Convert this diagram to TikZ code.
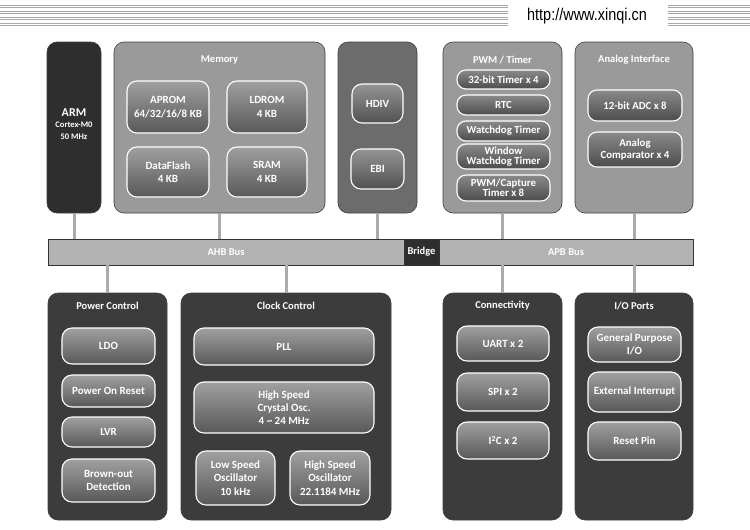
\documentclass[tikz,border=0pt]{standalone}
\usepackage{fontspec}
\setmainfont{Carlito}
\newfontfamily\urlfont{Liberation Sans}[FakeStretch=0.85]
\definecolor{darkbox}{HTML}{2E2E2E}
\definecolor{botbox}{HTML}{3C3C3C}
\definecolor{midbox}{HTML}{9A9A9A}
\definecolor{hdbox}{HTML}{6C6C6C}
\definecolor{busgray}{HTML}{B2B2B2}
\definecolor{conngray}{HTML}{ABABAB}
\definecolor{stripegray}{HTML}{A8A8A8}
\definecolor{inA}{HTML}{A0A0A0}
\definecolor{inB}{HTML}{8A8A8A}
\definecolor{inC}{HTML}{949494}
\newcommand\bx[7]{\node[#1, minimum width={#5-#3}, minimum height={#6-#4}] (#2) at ({(#3+#5)/2},{(#4+#6)/2}) {#7};}
\begin{document}
\begin{tikzpicture}[x=1pt,y=-1pt,
  blk/.style={draw=black!75, line width=0.6pt, rounded corners=10pt, fill=#1, inner sep=0pt},
  inbox/.style={draw=white, line width=1.1pt, rounded corners=10pt, top color=#1, bottom color=#1!55!black, text=white, align=center, inner sep=0pt, font=\bfseries\fontsize{11}{13.3}\selectfont},
  inbox/.default={inA},
  pill/.style={inbox=inB, rounded corners=9pt, font=\bfseries\fontsize{10.8}{12}\selectfont},
  ttl/.style={text=white, font=\bfseries\fontsize{10.5}{12}\selectfont, inner sep=0pt},
  conn/.style={draw=conngray, line width=3pt},
  stripe/.style={draw=stripegray, line width=0.9pt},
  busbox/.style={draw=black!80, line width=0.6pt, fill=busgray, inner sep=0pt, text=white, font=\bfseries\fontsize{10.5}{12}\selectfont},
]
\useasboundingbox (0,0) rectangle (750,530);

% header
\node[font=\urlfont\fontsize{17}{17}\selectfont, inner sep=0pt] (url) at (587,16) {http://www.xinqi.cn};
\foreach \yy in {5,11,17,23} {
  \draw[stripe] (0,\yy) -- (508,\yy);
  \draw[stripe] (0,\yy+2) -- (508,\yy+2);
  \draw[stripe] (668,\yy) -- (750,\yy);
  \draw[stripe] (668,\yy+2) -- (750,\yy+2);
}

% bus
\bx{busbox}{ahb}{48}{239}{404}{265}{AHB Bus}
\bx{busbox, fill=darkbox}{bridge}{404}{239}{439}{265}{Bridge}
\bx{busbox}{apb}{439}{239}{693}{265}{APB Bus}

% top outer boxes
\bx{blk=darkbox}{arm}{47}{42}{101}{213}{}
\bx{blk=midbox}{mem}{114}{42}{325}{213}{}
\bx{blk=hdbox}{hd}{338}{42}{417}{213}{}
\bx{blk=midbox}{pwm}{443}{42}{562}{213}{}
\bx{blk=midbox}{ana}{575}{42}{693}{213}{}

% bottom outer boxes
\bx{blk=botbox}{pwr}{48}{293}{167}{520}{}
\bx{blk=botbox}{clk}{181}{293}{391}{520}{}
\bx{blk=botbox}{con}{443}{293}{562}{520}{}
\bx{blk=botbox}{io}{575}{293}{693}{520}{}

% connectors
\foreach \b in {arm,mem,hd} \draw[conn] (\b.south) -- (\b.south |- ahb.north);
\foreach \b in {pwm,ana} \draw[conn] (\b.south) -- (\b.south |- apb.north);
\foreach \b in {pwr,clk} \draw[conn] (\b.north) -- (\b.north |- ahb.south);
\foreach \b in {con,io} \draw[conn] (\b.north) -- (\b.north |- apb.south);

% ARM
\node[text=white, align=center, inner sep=0pt, font=\bfseries] (armt) at (74,124)
  {{\fontsize{12}{13}\selectfont ARM}\\[-1pt]{\fontsize{8.5}{9.5}\selectfont Cortex-M0}\\{\fontsize{8.5}{9.5}\selectfont 50 MHz}};

% Memory
\node[ttl] (memt) at (219.5,60) {Memory};
\bx{inbox}{aprom}{127}{81}{209}{133}{APROM\\64/32/16/8 KB}
\bx{inbox}{ldrom}{227}{81}{307}{133}{LDROM\\4 KB}
\bx{inbox}{dflash}{127}{147}{209}{197}{DataFlash\\4 KB}
\bx{inbox}{sram}{227}{147}{307}{197}{SRAM\\4 KB}

% HDIV / EBI
\bx{inbox=inC}{hdiv}{352}{84}{403}{123}{HDIV}
\bx{inbox=inC}{ebi}{351}{149}{404}{189}{EBI}

% PWM / Timer
\node[ttl] (pwmt) at (502.5,60) {PWM / Timer};
\bx{pill}{t32}{457}{70}{550}{89}{32-bit Timer x 4}
\bx{pill}{rtc}{457}{95}{550}{115}{RTC}
\bx{pill}{wdt}{457}{121}{550}{141}{Watchdog Timer}
\bx{pill}{wwdt}{457}{144}{550}{169}{Window\\[-2pt]Watchdog Timer}
\bx{pill}{pwmc}{457}{175}{550}{201}{PWM/Capture\\[-2pt]Timer x 8}

% Analog
\node[ttl] (anat) at (634,60) {Analog Interface};
\bx{pill}{adc}{588}{90}{682}{121}{12-bit ADC x 8}
\bx{pill}{acmp}{588}{132}{682}{167}{Analog\\Comparator x 4}

% Power control
\node[ttl] (pwrt) at (107.5,306) {Power Control};
\bx{inbox}{ldo}{62}{328}{155}{364}{LDO}
\bx{inbox}{por}{62}{375}{155}{407}{Power On Reset}
\bx{inbox}{lvr}{62}{417}{155}{447}{LVR}
\bx{inbox}{bod}{62}{459}{155}{502}{Brown-out\\Detection}

% Clock control
\node[ttl] (clkt) at (286,306) {Clock Control};
\bx{inbox}{pll}{194}{328}{374}{365}{PLL}
\bx{inbox}{hxt}{194}{382}{374}{433}{High Speed\\Crystal Osc.\\4 \textasciitilde{} 24 MHz}
\bx{inbox}{lirc}{196}{451}{275}{505}{Low Speed\\Oscillator\\10 kHz}
\bx{inbox}{hirc}{290}{451}{370}{505}{High Speed\\Oscillator\\22.1184 MHz}

% Connectivity
\node[ttl] (cont) at (502.5,306) {Connectivity};
\bx{inbox}{uart}{457}{326}{549}{361}{UART x 2}
\bx{inbox}{spi}{457}{373}{549}{411}{SPI x 2}
\bx{inbox}{i2c}{457}{422}{549}{459}{I\textsuperscript{2}C x 2}

% I/O ports
\node[ttl] (iot) at (634,306) {I/O Ports};
\bx{inbox}{gpio}{588}{327}{681}{362}{General Purpose\\I/O}
\bx{inbox}{eint}{588}{372}{681}{412}{External Interrupt}
\bx{inbox}{rstp}{588}{422}{681}{460}{Reset Pin}
\end{tikzpicture}
\end{document}
